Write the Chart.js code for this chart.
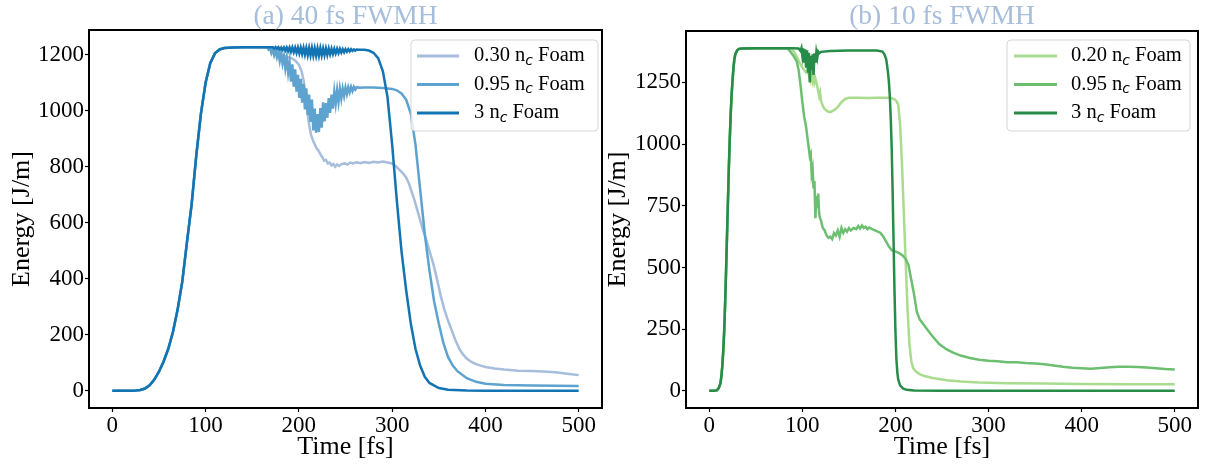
<!DOCTYPE html>
<html>
<head>
<meta charset="utf-8">
<script src="https://cdn.jsdelivr.net/npm/chart.js@4.4.0/dist/chart.umd.min.js"></script>
<style>
  html, body { margin: 0; padding: 0; background: #fff; }
  #wrap { position: relative; width: 1205px; height: 467px; overflow: hidden; }
  canvas { position: absolute; top: 0; }
  #chart-a { left: 0; }
  #chart-b { left: 600px; }
</style>
</head>
<body>
<div id="wrap">
  <canvas id="chart-a" width="605" height="467"></canvas>
  <canvas id="chart-b" width="605" height="467"></canvas>
</div>
<script>
// tick labels
const xTicks = [0, 100, 200, 300, 400, 500];
const yTicksA = [0, 200, 400, 600, 800, 1000, 1200];
const yTicksB = [0, 250, 500, 750, 1000, 1250];

const titleA = '(a) 40 fs FWMH';
const titleB = '(b) 10 fs FWMH';
const labelsA = ['0.30 n_c Foam', '0.95 n_c Foam', '3 n_c Foam'];
const labelsB = ['0.20 n_c Foam', '0.95 n_c Foam', '3 n_c Foam'];

// (a) 40 fs: part shared by all three foams
const riseTimeA = [0, 10, 20, 25, 30, 35, 40, 45, 50, 55, 60, 65, 70, 75, 80, 85, 90, 95, 100, 105, 110, 115, 120, 130, 140, 150, 160, 165];
const riseEnergyA = [0, 0, 0, 1, 3, 8, 20, 40, 68, 105, 150, 210, 290, 390, 530, 665, 840, 990, 1100, 1170, 1205, 1219, 1224, 1226, 1227, 1227, 1227, 1227];

// (a) 0.30 nc
const lowTimeA = [170, 172, 176, 180, 184, 188, 192, 196, 200, 203, 205, 207, 209, 211, 213, 215, 217, 219, 221, 223, 225, 227, 229, 231, 233, 235, 237, 239, 241, 243, 246, 249, 252, 255, 258, 262, 266, 270, 275, 280, 285, 290, 295, 300, 303, 306, 309, 312, 315, 318, 321, 324, 327, 330, 333, 336, 340, 344, 348, 352, 356, 360, 364, 368, 372, 376, 380, 385, 390, 395, 400, 410, 420, 435, 450, 462, 475, 490, 500];
const lowEnergyA = [1227, 1222, 1215, 1205, 1196, 1192, 1188, 1180, 1165, 1140, 1110, 1060, 1000, 950, 915, 895, 880, 866, 858, 845, 835, 822, 825, 812, 815, 805, 810, 800, 808, 803, 810, 812, 808, 815, 812, 816, 813, 817, 814, 818, 815, 819, 815, 812, 805, 795, 785, 775, 762, 740, 710, 680, 645, 610, 575, 545, 500, 455, 400, 340, 290, 250, 215, 180, 150, 130, 115, 103, 95, 90, 85, 80, 76, 72, 71, 69, 66, 60, 56];

// (a) 0.95 nc
const midTimeA = [166, 167.5, 169, 170.5, 172, 173.5, 175, 176.5, 178, 179.5, 181, 182.5, 184, 185.5, 187, 188.5, 190, 191.5, 193, 194.5, 196, 197.5, 199, 200.5, 202, 203.5, 205, 206.5, 208, 209.5, 211, 212.5, 214, 215.5, 217, 218.5, 220, 221.5, 223, 224.5, 226, 227.5, 229, 230.5, 232, 233.5, 235, 236.5, 238, 239.5, 241, 242.5, 244, 245.5, 247, 248.5, 250, 251.5, 253, 254.5, 256, 257.5, 259, 260.5, 262, 265, 270, 280, 290, 300, 305, 310, 315, 320, 325, 330, 335, 340, 345, 350, 355, 360, 365, 370, 380, 390, 400, 420, 450, 500];
const midEnergyA = [1227, 1219, 1224, 1206, 1219, 1198, 1216, 1191, 1208, 1178, 1206, 1169, 1194, 1152, 1188, 1137, 1174, 1104, 1166, 1086, 1148, 1068, 1128, 1046, 1114, 1029, 1096, 1005, 1080, 985, 1058, 960, 1040, 930, 1008, 922, 988, 924, 1010, 940, 1030, 962, 1027, 975, 1045, 992, 1058, 1008, 1068, 1026, 1073, 1032, 1078, 1044, 1079, 1053, 1083, 1060, 1084, 1066, 1085, 1070, 1085, 1076, 1084, 1082, 1083, 1083, 1081, 1078, 1073, 1062, 1040, 990, 880, 720, 560, 430, 320, 240, 170, 120, 90, 70, 45, 32, 25, 21, 19, 17];

// (a) 3 nc
const highTimeA = [170, 172, 173.5, 175, 176.5, 178, 179.5, 181, 182.5, 184, 185.5, 187, 188.5, 190, 191.5, 193, 194.5, 196, 197.5, 199, 200.5, 202, 203.5, 205, 206.5, 208, 209.5, 211, 212.5, 214, 215.5, 217, 218.5, 220, 221.5, 223, 224.5, 226, 227.5, 229, 230.5, 232, 233.5, 235, 236.5, 238, 239.5, 241, 242.5, 244, 245.5, 247, 248.5, 250, 251.5, 253, 254.5, 256, 257.5, 259, 260.5, 262, 265, 270, 275, 280, 285, 290, 295, 300, 305, 310, 315, 320, 325, 330, 335, 340, 350, 360, 380, 400, 500];
const highEnergyA = [1227, 1227, 1222, 1227, 1221, 1227, 1219, 1226, 1217, 1226, 1215, 1226, 1213, 1226, 1211, 1226, 1209, 1225, 1207, 1225, 1205, 1225, 1203, 1225, 1201, 1224, 1199, 1224, 1198, 1224, 1197, 1223, 1197, 1223, 1197, 1223, 1198, 1222, 1199, 1222, 1200, 1222, 1202, 1221, 1203, 1221, 1205, 1221, 1206, 1221, 1208, 1220, 1209, 1220, 1211, 1220, 1212, 1220, 1214, 1219, 1215, 1219, 1218, 1218, 1215, 1207, 1188, 1142, 1050, 880, 680, 500, 360, 240, 150, 90, 50, 28, 10, 4, 1, 0, 0];

// (b) 10 fs: part shared by all three foams
const riseTimeB = [0, 5, 8, 10, 12, 13, 14, 15, 16, 17, 18, 19, 20, 21, 22, 23, 24, 25, 26, 27, 28, 30, 32, 35, 50, 70, 82];
const riseEnergyB = [0, 0, 2, 10, 30, 60, 100, 160, 240, 350, 480, 620, 760, 900, 1020, 1120, 1200, 1260, 1310, 1345, 1365, 1380, 1386, 1388, 1389, 1389, 1389];

// (b) 0.20 nc
const lowTimeB = [85, 88, 91, 94, 97, 100, 102, 104, 106, 107, 108, 109, 110, 111, 112, 113, 114, 116, 118, 119, 120, 122, 124, 127, 130, 134, 138, 142, 146, 150, 160, 170, 180, 190, 196, 199, 201, 203, 205, 207, 209, 211, 213, 215, 217, 219, 222, 226, 231, 240, 255, 270, 290, 320, 360, 400, 450, 500];
const lowEnergyB = [1389, 1388, 1375, 1355, 1330, 1310, 1300, 1290, 1295, 1280, 1300, 1270, 1295, 1260, 1280, 1250, 1265, 1235, 1195, 1210, 1175, 1155, 1142, 1133, 1130, 1138, 1150, 1170, 1183, 1188, 1188, 1187, 1188, 1188, 1186, 1182, 1175, 1160, 1080, 920, 720, 520, 330, 190, 120, 92, 78, 68, 60, 52, 43, 38, 34, 31, 30, 28, 27, 27];

// (b) 0.95 nc
const midTimeB = [85, 88, 91, 94, 96, 98, 100, 102, 104, 106, 108, 109, 110, 111, 112, 113, 114, 115, 116, 117, 118, 119, 120, 122, 124, 126, 128, 130, 132, 134, 136, 138, 140, 142, 144, 146, 148, 150, 152, 155, 158, 160, 162, 164, 166, 168, 170, 172, 175, 178, 181, 184, 187, 190, 193, 196, 200, 204, 208, 211, 214, 217, 220, 223, 226, 230, 235, 240, 247, 255, 262, 270, 280, 290, 300, 310, 320, 330, 340, 350, 360, 370, 380, 390, 400, 410, 420, 430, 440, 450, 460, 470, 480, 490, 500];
const midEnergyB = [1385, 1370, 1355, 1335, 1300, 1240, 1170, 1110, 1070, 1010, 950, 960, 880, 900, 820, 850, 700, 790, 740, 800, 720, 700, 690, 660, 650, 630, 620, 625, 615, 640, 630, 650, 625, 660, 640, 655, 645, 660, 650, 660, 655, 668, 658, 670, 660, 665, 655, 662, 655, 650, 645, 640, 625, 605, 585, 570, 565, 558, 548, 535, 510, 450, 390, 320, 290, 270, 245, 220, 190, 168, 155, 143, 133, 126, 122, 120, 116, 116, 113, 111, 108, 103, 98, 94, 92, 90, 93, 96, 98, 98, 97, 95, 92, 89, 87];

// (b) 3 nc
const highTimeB = [90, 96, 98, 99, 100, 101, 102, 103, 104, 105, 106, 107, 108, 109, 110, 111, 112, 113, 114, 115, 116, 117, 118, 120, 130, 150, 170, 180, 186, 188, 190, 191, 192, 193, 194, 195, 196, 197, 198, 199, 200, 201, 202, 203, 205, 208, 212, 220, 250, 500];
const highEnergyB = [1389, 1388, 1378, 1389, 1358, 1388, 1330, 1384, 1310, 1380, 1290, 1370, 1250, 1358, 1300, 1364, 1280, 1368, 1330, 1372, 1350, 1374, 1368, 1374, 1377, 1379, 1379, 1379, 1375, 1365, 1345, 1320, 1290, 1250, 1190, 1100, 980, 800, 600, 400, 240, 130, 75, 45, 22, 10, 4, 1, 0, 0];

const colorsA = ['#a6bddb', '#5ea2cf', '#1274b3'];
const colorsB = ['#a9dc8e', '#6cbf70', '#268c47'];

const serif = "'Liberation Serif', 'Times New Roman', serif";
Chart.defaults.font.family = serif;
Chart.defaults.color = '#000';

function toPoints(times, energies) {
    return times.map(function(t, i) { return { x: t, y: energies[i] }; });
}

function series(label, color, order, times, energies) {
    return {
        label: label,
        data: toPoints(times, energies),
        borderColor: color,
        backgroundColor: color,
        borderWidth: 2.5,
        borderDash: [5000, 0], // keeps every point (no fast-path merging)
        pointRadius: 0,
        tension: 0,
        fill: false,
        order: order
    };
}

// draw "0.30 n_c Foam" with a subscript c
function drawLabel(ctx, text, x, y) {
    const parts = text.split('_c');
    ctx.textBaseline = 'middle';
    ctx.textAlign = 'left';
    ctx.font = '20.5px ' + serif;
    ctx.fillText(parts[0], x, y);
    let w = ctx.measureText(parts[0]).width;
    ctx.font = "italic 14px 'DejaVu Sans'";
    ctx.fillText('c', x + w, y + 5);
    w += ctx.measureText('c').width;
    ctx.font = '20.5px ' + serif;
    ctx.fillText(parts[1], x + w, y);
}

// frame, panel title and legend
const panelPlugin = {
    id: 'panel',
    afterDraw: function(chart, args, opts) {
        const ctx = chart.ctx;
        const a = chart.chartArea;
        ctx.save();
        ctx.strokeStyle = '#000';
        ctx.lineWidth = 2;
        ctx.strokeRect(a.left, a.top, a.right - a.left, a.bottom - a.top);

        ctx.fillStyle = '#a6bddb';
        ctx.font = '27.5px ' + serif;
        ctx.textAlign = 'center';
        ctx.textBaseline = 'alphabetic';
        ctx.fillText(opts.title, (a.left + a.right) / 2, 24);

        const box = opts.box;
        ctx.beginPath();
        ctx.roundRect(box.x, box.y, box.w, box.h, 4);
        ctx.fillStyle = 'rgba(255,255,255,0.8)';
        ctx.fill();
        ctx.strokeStyle = 'rgba(204,204,204,0.8)';
        ctx.lineWidth = 1;
        ctx.stroke();

        const sets = chart.data.datasets;
        sets.forEach(function(ds, i) {
            const y = opts.rowY[i];
            ctx.strokeStyle = ds.borderColor;
            ctx.lineWidth = 3;
            ctx.beginPath();
            ctx.moveTo(opts.lineX[0], y);
            ctx.lineTo(opts.lineX[1], y);
            ctx.stroke();
            ctx.fillStyle = '#000';
            drawLabel(ctx, ds.label, opts.textX, y);
        });
        ctx.restore();
    }
};

function makeChart(id, datasets, yMin, yMax, yTicks, cfg) {
    const el = document.getElementById(id);
    return new Chart(el.getContext('2d'), {
        type: 'line',
        data: { datasets: datasets },
        options: {
            responsive: false,
            animation: false,
            devicePixelRatio: 1,
            layout: { padding: { left: 0, right: cfg.padRight, top: cfg.padTop, bottom: 0 } },
            plugins: {
                legend: { display: false },
                tooltip: { enabled: false },
                panel: cfg.panel
            },
            scales: {
                x: {
                    type: 'linear',
                    min: -25,
                    max: 525,
                    afterBuildTicks: function(scale) {
                        scale.ticks = xTicks.map(function(v) { return { value: v }; });
                    },
                    afterFit: function(scale) { scale.height = 59; },
                    border: { display: false },
                    grid: { drawOnChartArea: false, drawTicks: true, tickLength: 4, tickWidth: 1.2, tickColor: '#000' },
                    ticks: {
                        font: { size: 23 },
                        color: '#000',
                        padding: 0,
                        maxRotation: 0,
                        autoSkip: false,
                        callback: function(v) { return String(v); }
                    },
                    title: {
                        display: true,
                        text: 'Time [fs]',
                        font: { size: 26 },
                        color: '#000',
                        padding: { top: 0, bottom: 4 }
                    }
                },
                y: {
                    min: yMin,
                    max: yMax,
                    afterBuildTicks: function(scale) {
                        scale.ticks = yTicks.map(function(v) { return { value: v }; });
                    },
                    afterFit: function(scale) { scale.width = cfg.yWidth; },
                    border: { display: false },
                    grid: { drawOnChartArea: false, drawTicks: true, tickLength: 4, tickWidth: 1.2, tickColor: '#000' },
                    ticks: {
                        font: { size: 23 },
                        color: '#000',
                        padding: 1,
                        autoSkip: false,
                        callback: function(v) { return String(v); }
                    },
                    title: {
                        display: true,
                        text: 'Energy [J/m]',
                        font: { size: 26 },
                        color: '#000',
                        padding: { top: cfg.yTitlePad, bottom: 0 }
                    }
                }
            }
        },
        plugins: [panelPlugin]
    });
}

// (a) 40 fs FWMH
makeChart('chart-a', [
    series(labelsA[0], colorsA[0], 2, riseTimeA.concat(lowTimeA), riseEnergyA.concat(lowEnergyA)),
    series(labelsA[1], colorsA[1], 1, riseTimeA.concat(midTimeA), riseEnergyA.concat(midEnergyA)),
    series(labelsA[2], colorsA[2], 0, riseTimeA.concat(highTimeA), riseEnergyA.concat(highEnergyA))
], -61.4, 1288.4, yTicksA, {
    padRight: 3, padTop: 30, yWidth: 89, yTitlePad: 7,
    panel: { title: titleA, box: { x: 411, y: 40, w: 187, h: 91 }, lineX: [417, 459], textX: 474, rowY: [56, 84.5, 113] }
});

// (b) 10 fs FWMH
makeChart('chart-b', [
    series(labelsB[0], colorsB[0], 2, riseTimeB.concat(lowTimeB), riseEnergyB.concat(lowEnergyB)),
    series(labelsB[1], colorsB[1], 1, riseTimeB.concat(midTimeB), riseEnergyB.concat(midEnergyB)),
    series(labelsB[2], colorsB[2], 0, riseTimeB.concat(highTimeB), riseEnergyB.concat(highEnergyB))
], -69.5, 1458.5, yTicksB, {
    padRight: 7, padTop: 31, yWidth: 86, yTitlePad: 3,
    panel: { title: titleB, box: { x: 407, y: 40, w: 183, h: 91 }, lineX: [414, 457], textX: 471, rowY: [56, 84.5, 113] }
});
</script>
</body>
</html>
